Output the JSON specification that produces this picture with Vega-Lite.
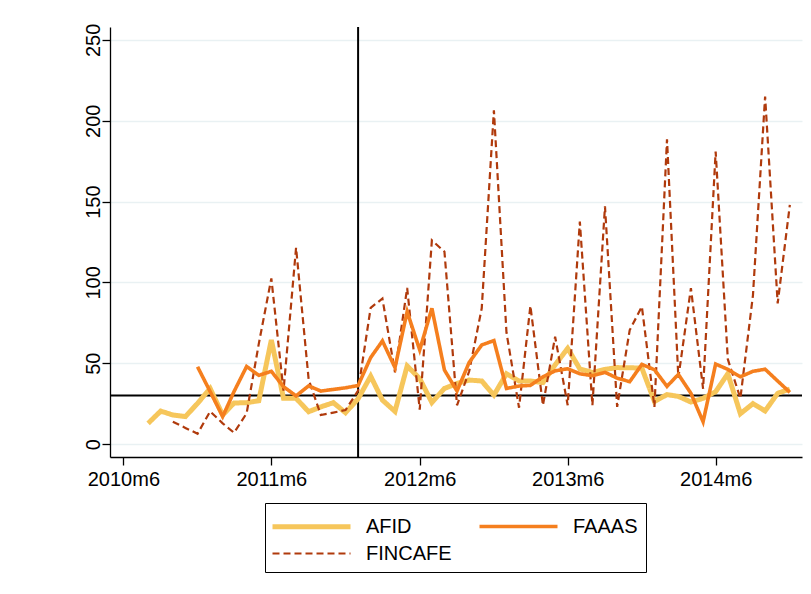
{
  "$schema": "https://vega.github.io/schema/vega-lite/v6.json",
  "width": 692,
  "height": 430,
  "autosize": {"type": "none"},
  "padding": {"left": 110, "top": 27, "right": 9, "bottom": 137},
  "background": "white",
  "config": {
    "font": "Liberation Sans",
    "view": {"stroke": null},
    "axis": {
      "labelFont": "Liberation Sans",
      "labelFontSize": 20,
      "labelColor": "black",
      "domainColor": "black",
      "tickColor": "black",
      "domainWidth": 1.3,
      "tickWidth": 1.3,
      "tickSize": 8,
      "title": null
    },
    "legend": {
      "labelFont": "Liberation Sans",
      "labelFontSize": 20,
      "labelColor": "black"
    }
  },
  "layer": [
    {
      "data": {"values": [{}]},
      "mark": {"type": "rule", "color": "black", "strokeWidth": 2},
      "encoding": {"y": {"datum": 30, "type": "quantitative"}}
    },
    {
      "data": {"values": [{}]},
      "mark": {"type": "rule", "color": "black", "strokeWidth": 2},
      "encoding": {
        "x": {"datum": {"year": 2012, "month": 1, "date": 1, "utc": true}, "type": "temporal", "scale": {"type": "utc"}}
      }
    },
    {
      "data": {
        "values": [
          {"month": "2010-08-01", "AFID": 12.8, "FAAAS": null, "FINCAFE": null},
          {"month": "2010-09-01", "AFID": 20.4, "FAAAS": null, "FINCAFE": null},
          {"month": "2010-10-01", "AFID": 18, "FAAAS": null, "FINCAFE": 13.8},
          {"month": "2010-11-01", "AFID": 17, "FAAAS": null, "FINCAFE": 10},
          {"month": "2010-12-01", "AFID": 25.2, "FAAAS": 47.8, "FINCAFE": 6.4},
          {"month": "2011-01-01", "AFID": 34.4, "FAAAS": 32.5, "FINCAFE": 20.2},
          {"month": "2011-02-01", "AFID": 18, "FAAAS": 17, "FINCAFE": 12.8},
          {"month": "2011-03-01", "AFID": 25.4, "FAAAS": 32.5, "FINCAFE": 7},
          {"month": "2011-04-01", "AFID": 25.6, "FAAAS": 48, "FINCAFE": 19},
          {"month": "2011-05-01", "AFID": 26.8, "FAAAS": 42.5, "FINCAFE": 62},
          {"month": "2011-06-01", "AFID": 64.4, "FAAAS": 45, "FINCAFE": 102.5},
          {"month": "2011-07-01", "AFID": 28.3, "FAAAS": 35.5, "FINCAFE": 33},
          {"month": "2011-08-01", "AFID": 28.3, "FAAAS": 29.8, "FINCAFE": 121.5},
          {"month": "2011-09-01", "AFID": 20, "FAAAS": 36, "FINCAFE": 40},
          {"month": "2011-10-01", "AFID": 23, "FAAAS": 32.8, "FINCAFE": 18},
          {"month": "2011-11-01", "AFID": 25.6, "FAAAS": 33.8, "FINCAFE": 19.5},
          {"month": "2011-12-01", "AFID": 19.4, "FAAAS": 34.8, "FINCAFE": 21},
          {"month": "2012-01-01", "AFID": 28, "FAAAS": 36.2, "FINCAFE": 33},
          {"month": "2012-02-01", "AFID": 42, "FAAAS": 53.5, "FINCAFE": 84.3},
          {"month": "2012-03-01", "AFID": 27.2, "FAAAS": 63.8, "FINCAFE": 90},
          {"month": "2012-04-01", "AFID": 20.2, "FAAAS": 47.3, "FINCAFE": 44.4},
          {"month": "2012-05-01", "AFID": 48.3, "FAAAS": 81.9, "FINCAFE": 96.6},
          {"month": "2012-06-01", "AFID": 40.5, "FAAAS": 58.2, "FINCAFE": 21.3},
          {"month": "2012-07-01", "AFID": 25.7, "FAAAS": 84, "FINCAFE": 126},
          {"month": "2012-08-01", "AFID": 34.4, "FAAAS": 45.8, "FINCAFE": 119},
          {"month": "2012-09-01", "AFID": 37.5, "FAAAS": 32.8, "FINCAFE": 24},
          {"month": "2012-10-01", "AFID": 39.6, "FAAAS": 50.5, "FINCAFE": 45},
          {"month": "2012-11-01", "AFID": 39, "FAAAS": 61.3, "FINCAFE": 84},
          {"month": "2012-12-01", "AFID": 30.3, "FAAAS": 64, "FINCAFE": 206.5},
          {"month": "2013-01-01", "AFID": 43.5, "FAAAS": 34.4, "FINCAFE": 69},
          {"month": "2013-02-01", "AFID": 39, "FAAAS": 35.9, "FINCAFE": 22.5},
          {"month": "2013-03-01", "AFID": 39, "FAAAS": 36.3, "FINCAFE": 85.5},
          {"month": "2013-04-01", "AFID": 38, "FAAAS": 41.6, "FINCAFE": 24},
          {"month": "2013-05-01", "AFID": 49, "FAAAS": 45.3, "FINCAFE": 66.4},
          {"month": "2013-06-01", "AFID": 59.2, "FAAAS": 46.6, "FINCAFE": 24},
          {"month": "2013-07-01", "AFID": 46.5, "FAAAS": 43.5, "FINCAFE": 137.6},
          {"month": "2013-08-01", "AFID": 44.3, "FAAAS": 42.3, "FINCAFE": 24},
          {"month": "2013-09-01", "AFID": 46.2, "FAAAS": 44.4, "FINCAFE": 147},
          {"month": "2013-10-01", "AFID": 47.3, "FAAAS": 40.8, "FINCAFE": 23},
          {"month": "2013-11-01", "AFID": 47.2, "FAAAS": 38.6, "FINCAFE": 70.5},
          {"month": "2013-12-01", "AFID": 47, "FAAAS": 49.3, "FINCAFE": 85},
          {"month": "2014-01-01", "AFID": 26.4, "FAAAS": 46, "FINCAFE": 23},
          {"month": "2014-02-01", "AFID": 30.6, "FAAAS": 35.7, "FINCAFE": 188.6},
          {"month": "2014-03-01", "AFID": 29.5, "FAAAS": 43.1, "FINCAFE": 41},
          {"month": "2014-04-01", "AFID": 26, "FAAAS": 31.4, "FINCAFE": 96.5},
          {"month": "2014-05-01", "AFID": 28.3, "FAAAS": 13.8, "FINCAFE": 34.2},
          {"month": "2014-06-01", "AFID": 32.4, "FAAAS": 49.5, "FINCAFE": 181},
          {"month": "2014-07-01", "AFID": 43.5, "FAAAS": 46.2, "FINCAFE": 52.5},
          {"month": "2014-08-01", "AFID": 18.8, "FAAAS": 41.6, "FINCAFE": 28.3},
          {"month": "2014-09-01", "AFID": 25, "FAAAS": 45, "FINCAFE": 92},
          {"month": "2014-10-01", "AFID": 20.5, "FAAAS": 46.3, "FINCAFE": 215},
          {"month": "2014-11-01", "AFID": 31.4, "FAAAS": 39, "FINCAFE": 87},
          {"month": "2014-12-01", "AFID": 34, "FAAAS": 32, "FINCAFE": 148}
        ]
      },
      "transform": [
        {"fold": ["AFID", "FAAAS", "FINCAFE"], "as": ["series", "value"]},
        {"filter": "isValid(datum.value)"}
      ],
      "mark": {"type": "line", "strokeJoin": "miter"},
      "encoding": {
        "x": {
          "field": "month",
          "type": "temporal",
          "scale": {
            "type": "utc",
            "domain": [
              {"year": 2010, "month": 4, "date": 29, "utc": true},
              {"year": 2014, "month": 12, "date": 31, "utc": true}
            ]
          },
          "axis": {
            "grid": false,
            "values": [
              {"year": 2010, "month": 6, "date": 1, "utc": true},
              {"year": 2011, "month": 6, "date": 1, "utc": true},
              {"year": 2012, "month": 6, "date": 1, "utc": true},
              {"year": 2013, "month": 6, "date": 1, "utc": true},
              {"year": 2014, "month": 6, "date": 1, "utc": true}
            ],
            "labelExpr": "utcFormat(datum.value, '%Y') + 'm' + (utcmonth(datum.value) + 1)",
            "labelPadding": 4
          }
        },
        "y": {
          "field": "value",
          "type": "quantitative",
          "scale": {"domain": [-8, 258], "nice": false, "zero": false},
          "axis": {
            "values": [0, 50, 100, 150, 200, 250],
            "grid": true,
            "gridColor": "#e9f1f3",
            "gridWidth": 1.5,
            "labelAngle": -90,
            "labelAlign": "center",
            "labelBaseline": "alphabetic",
            "labelPadding": 3
          }
        },
        "color": {
          "field": "series",
          "type": "nominal",
          "scale": {"domain": ["AFID", "FAAAS", "FINCAFE"], "range": ["#F6C65B", "#F57F1E", "#B03A0C"]},
          "legend": {
            "title": null,
            "orient": "none",
            "legendX": 155,
            "legendY": 476,
            "direction": "horizontal",
            "columns": 2,
            "strokeColor": "black",
            "fillColor": "white",
            "padding": 8,
            "symbolType": "M-3,0H3",
            "symbolSize": 676,
            "symbolOffset": 23,
            "labelOffset": 39,
            "columnPadding": 20,
            "rowPadding": 2,
            "labelLimit": 0
          }
        },
        "strokeDash": {
          "field": "series",
          "type": "nominal",
          "scale": {"domain": ["AFID", "FAAAS", "FINCAFE"], "range": [[1, 0], [1, 0], [7, 4]]},
          "legend": {"title": null}
        },
        "strokeWidth": {
          "field": "series",
          "type": "nominal",
          "scale": {"domain": ["AFID", "FAAAS", "FINCAFE"], "range": [5, 2.2, 2]},
          "legend": {"title": null}
        }
      }
    }
  ]
}
